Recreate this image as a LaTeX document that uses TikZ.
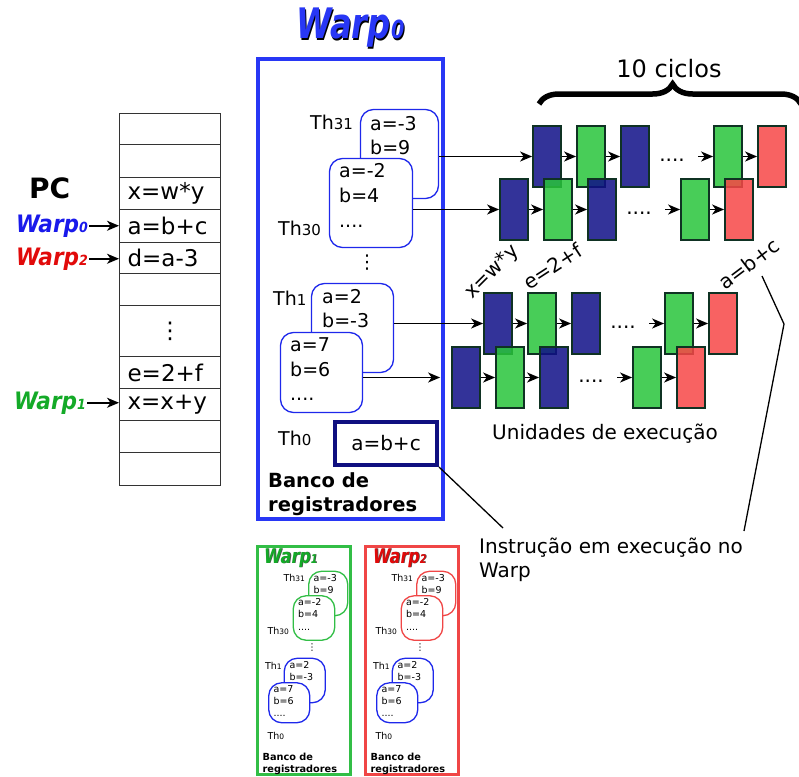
\documentclass[tikz,border=0pt]{standalone}
\usepackage{fontspec}
\setmainfont{DejaVu Sans}
\usetikzlibrary{arrows.meta,decorations.pathreplacing,calc}
\definecolor{wblue}{RGB}{40,55,245}
\definecolor{navy}{RGB}{16,16,128}
\definecolor{thblue}{RGB}{30,40,235}
\definecolor{pblue}{RGB}{15,15,135}
\definecolor{pgreen}{RGB}{40,196,59}
\definecolor{pred}{RGB}{247,70,70}
\definecolor{pedge}{RGB}{15,50,35}
\definecolor{wgreen}{RGB}{50,190,70}
\definecolor{wred}{RGB}{240,70,70}
\definecolor{lblue}{RGB}{25,25,235}
\definecolor{lgreen}{RGB}{20,170,40}
\definecolor{lred}{RGB}{225,10,10}
\newcommand\wtxt[3]{\bfseries\itshape\fontsize{#1}{#1}\selectfont Warp{\fontsize{#2}{#2}\selectfont #3}}
\newcommand\thtxt[1]{Th{\fontsize{15}{15}\selectfont #1}}
\newcommand\regbank[2]{%
  \node[thbox=#2, minimum width=78pt, minimum height=89pt] (#1t31) at (399.5,154) {};
  \node[tt] (#1a31) at (370,130) {a=-3};
  \node[tt] (#1b31) at (370,154) {b=9};
  \node[tt] (#1l31) at (310,129) {\thtxt{31}};
  \node[thbox=#2, minimum width=83pt, minimum height=89pt] (#1t30) at (371,203) {};
  \node[tt] (#1a30) at (339,177) {a=-2};
  \node[tt] (#1b30) at (339,202) {b=4};
  \node[tt] (#1d30) at (339,227) {....};
  \node[tt] (#1l30) at (278,235) {\thtxt{30}};
  \node[tt, anchor=center] (#1vd) at (367,263) {⋮};
  \node[thbox=thblue, minimum width=82pt, minimum height=89pt] (#1t1) at (352.5,328) {};
  \node[tt] (#1a1) at (322,303) {a=2};
  \node[tt] (#1b1) at (322,327) {b=-3};
  \node[tt] (#1l1) at (273,305) {\thtxt{1}};
  \node[thbox=thblue, minimum width=82pt, minimum height=80pt] (#1t0) at (321.5,372.5) {};
  \node[tt] (#1a0) at (290,351) {a=7};
  \node[tt] (#1b0) at (290,376) {b=6};
  \node[tt] (#1d0) at (290,400) {....};
  \node[tt] (#1l0) at (278,445) {\thtxt{0}};
  \node[tt, font=\bfseries\fontsize{19.5}{24}\selectfont] (#1bk1) at (268,487) {Banco de};
  \node[tt, font=\bfseries\fontsize{19.5}{24}\selectfont] (#1bk2) at (268,511) {registradores};
}
\newcommand\pipe[3]{%
  \begin{scope}[shift={(#2,#3)}]
    \node[pbox, fill=pblue] (#1a) at (15,31.5) {};
    \node[pbox, fill=pgreen] (#1b) at (59,31.5) {};
    \node[pbox, fill=pblue] (#1c) at (103,31.5) {};
    \node[pdots] (#1d) at (140,35) {....};
    \coordinate (#1s) at (166,31.5);
    \node[pbox, fill=pgreen] (#1e) at (196,31.5) {};
    \node[pbox, fill=pred] (#1f) at (240,31.5) {};
    \draw[arr] (#1a) -- (#1b);
    \draw[arr] (#1b) -- (#1c);
    \draw[arr] (#1s) -- (#1e);
    \draw[arr] (#1e) -- (#1f);
  \end{scope}
}
\begin{document}
\begin{tikzpicture}[x=1pt,y=-1pt,
  cell/.style={draw=black!80, line width=1.2pt, anchor=north west, minimum width=101pt,
    text width=85pt, inner xsep=8pt, inner ysep=0pt, align=left, font=\fontsize{23}{26}\selectfont},
  arr/.style={-{Stealth[length=12pt,width=10pt,inset=3.5pt]}, line width=1.6pt},
  pbox/.style={draw=pedge, line width=1.8pt, minimum width=28pt, minimum height=61pt, inner sep=0pt, fill opacity=0.85},
  pdots/.style={font=\fontsize{20}{24}\selectfont, inner sep=0pt},
  thbox/.style={draw=#1, line width=1.3pt, rounded corners=13pt, fill=white, inner sep=0pt},
  tt/.style={font=\fontsize{19}{22}\selectfont, inner sep=0pt, anchor=base west},
  txt/.style={font=\fontsize{20}{24}\selectfont, inner sep=0pt},
  lab/.style={inner sep=1pt, anchor=base east, xscale=0.9}
]
\useasboundingbox (0,0) rectangle (799,776);

% ---------- PC column ----------
\node[cell, minimum height=31pt] (c1) at (119,113) {};
\node[cell, minimum height=33pt] (c2) at (119,144) {};
\node[cell, minimum height=32pt] (c3) at (119,177) {x=w*y};
\node[cell, minimum height=33pt] (c4) at (119,209) {a=b+c};
\node[cell, minimum height=31pt] (c5) at (119,242) {d=a-3};
\node[cell, minimum height=32pt] (c6) at (119,273) {};
\node[cell, minimum height=51pt, align=center] (c7) at (119,305) {⋮};
\node[cell, minimum height=32pt] (c8) at (119,356) {e=2+f};
\node[cell, minimum height=32pt] (c9) at (119,388) {x=x+y};
\node[cell, minimum height=32pt] (c10) at (119,420) {};
\node[cell, minimum height=33pt] (c11) at (119,452) {};

\node[inner sep=0pt, anchor=base west, font=\bfseries\fontsize{28}{30}\selectfont] (pc) at (29,198) {PC};
\node[lab, text=lblue] (lw0) at (89,232) {\wtxt{24}{14}{0}};
\node[lab, text=lred] (lw2) at (89,265) {\wtxt{24}{14}{2}};
\node[lab, text=lgreen] (lw1) at (87,409) {\wtxt{24}{14}{1}};
\draw[arr] (lw0.east) -- (lw0.east -| c4.west);
\draw[arr] (lw2.east) -- (lw2.east -| c5.west);
\draw[arr] (lw1.east) -- (lw1.east -| c9.west);

% ---------- main register bank (Warp0) ----------
\node[inner sep=0pt, anchor=base, xscale=0.77, text=black] (t0s) at (351.5,40.2) {\wtxt{42}{25}{0}};
\node[inner sep=0pt, anchor=base, xscale=0.77, text=wblue] (t0) at (350.5,39) {\wtxt{42}{25}{0}};
\draw[wblue, line width=4pt] (258,59) rectangle (443,519);
\regbank{m}{thblue}
\node[draw=navy, line width=4pt, minimum width=102pt, minimum height=43pt, inner sep=0pt,
  font=\fontsize{20}{24}\selectfont] (abc) at (386,443.5) {a=b+c};

% ---------- pipelines ----------
\pipe{pa}{532}{125}
\pipe{pb}{499}{178}
\pipe{pc}{483}{292}
\pipe{pd}{451}{346}
\draw[arr] (mt31.east |- paa.west) -- (paa.west);
\draw[arr] (mt30.east |- pba.west) -- (pba.west);
\draw[arr] (mt1.east |- pca.west) -- (pca.west);
\draw[arr, shorten >=11pt] (mt0.east |- pda.west) -- (pda.west);

\node[txt, rotate=45] (rl1) at (492,272) {x=w*y};
\node[txt, rotate=33] (rl2) at (553,266) {e=2+f};
\node[txt, rotate=37] (rl3) at (749,264) {a=b+c};

\draw[decorate, decoration={brace, amplitude=20pt, aspect=0.51}, line width=5.5pt] (539,104) -- (801,104);
\node[font=\fontsize{24}{28}\selectfont, inner sep=0pt] (cic) at (669,69) {10 ciclos};
\node[txt] (ue) at (605,434) {Unidades de execução};

\node[txt, anchor=north west, align=left] (instr) at (479,538) {Instrução em execução no\\Warp};
\coordinate (k1) at (503,528);
\draw[line width=1.3pt] (abc.south east) -- (k1);
\coordinate (k2) at (762,276);
\coordinate (k3) at (784,324);
\coordinate (k4) at (744,531);
\draw[line width=1.3pt] (k2) -- (k3) -- (k4);

% ---------- small banks ----------
\draw[wgreen, line width=3pt] (257.5,546.5) rectangle (350.5,774.5);
\begin{scope}[shift={(128.5,516.5)}, scale=0.5, transform shape]
  \regbank{g}{wgreen}
\end{scope}
\node[inner sep=0pt, anchor=base west, xscale=0.8, text=black!70] (t1s) at (264.8,563.8) {\wtxt{20}{12}{1}};
\node[inner sep=0pt, anchor=base west, xscale=0.8, text=lgreen] (t1) at (264,563) {\wtxt{20}{12}{1}};

\draw[wred, line width=3pt] (365.5,546.5) rectangle (458.5,774.5);
\begin{scope}[shift={(236.5,516.5)}, scale=0.5, transform shape]
  \regbank{r}{wred}
\end{scope}
\node[inner sep=0pt, anchor=base west, xscale=0.8, text=black!70] (t2s) at (373.8,563.8) {\wtxt{20}{12}{2}};
\node[inner sep=0pt, anchor=base west, xscale=0.8, text=lred] (t2) at (373,563) {\wtxt{20}{12}{2}};
\end{tikzpicture}
\end{document}
